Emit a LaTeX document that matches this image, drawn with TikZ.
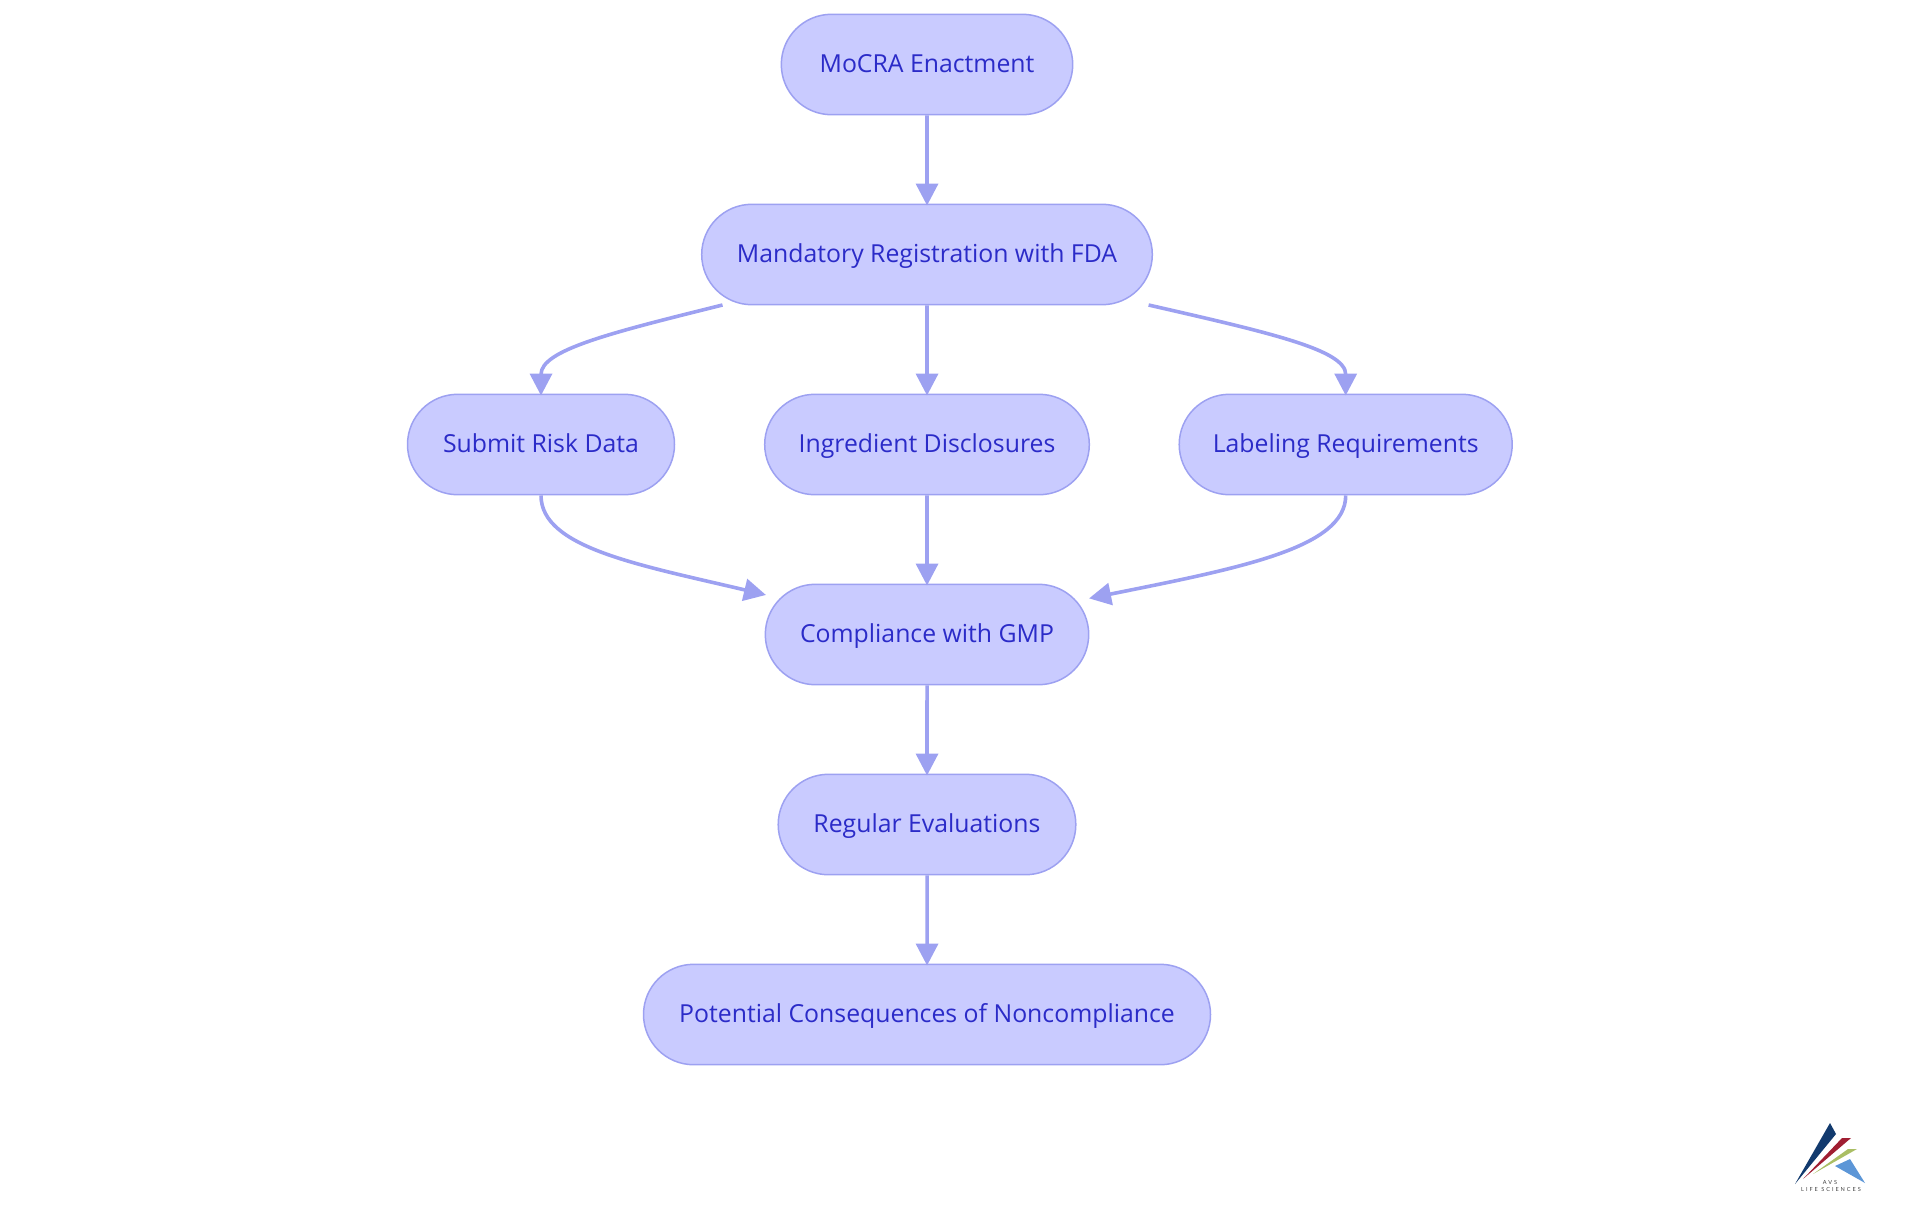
\documentclass[tikz,border=0pt]{standalone}
\usepackage{fontspec}
\setmainfont{Open Sans}
\newfontfamily\logofont[LetterSpace=35]{Lato}
\usetikzlibrary{shapes.misc}
\usetikzlibrary{arrows.meta}
\definecolor{boxfill}{RGB}{201,203,255}
\definecolor{boxline}{RGB}{157,161,241}
\definecolor{boxtext}{RGB}{43,43,200}
\tikzset{
  stagebox/.style={rounded rectangle, draw=boxline, fill=boxfill, line width=0.75pt,
    text=boxtext, minimum height=50.2pt, inner sep=0pt, text height=11pt, text depth=2.8pt,
    font=\fontsize{12.4}{14}\selectfont},
  flowline/.style={draw=boxline, line width=1.8pt, shorten >=-1pt,
    -{Triangle[length=11pt,width=11pt]}},
  logotext/.style={text=black!75, inner sep=0pt, font=\logofont\fontsize{2.8}{3.2}\selectfont}
}
\begin{document}
\begin{tikzpicture}[x=0.5pt,y=0.5pt]
\useasboundingbox (0,0) rectangle (1920,-1215);

\node[stagebox, minimum width=145.7pt] (mocra) at (927,-64.5) {MoCRA Enactment};
\node[stagebox, minimum width=225.3pt] (regis) at (927,-254.5) {Mandatory Registration with FDA};
\node[stagebox, minimum width=133.5pt] (risk) at (541,-444.5) {Submit Risk Data};
\node[stagebox, minimum width=162.3pt] (ingred) at (927,-444.5) {Ingredient Disclosures};
\node[stagebox, minimum width=166.5pt] (label) at (1345.7,-444.5) {Labeling Requirements};
\node[stagebox, minimum width=161.7pt] (gmp) at (927,-634.5) {Compliance with GMP};
\node[stagebox, minimum width=148.8pt] (evals) at (927,-824.5) {Regular Evaluations};
\node[stagebox, minimum width=283.5pt] (conseq) at (927,-1014.5) {Potential Consequences of Noncompliance};

\coordinate (regisl) at (722.5,-305);
\coordinate (regisr) at (1148.6,-305);
\coordinate (gmpl) at (764,-594.5);
\coordinate (gmpr) at (1091,-598);

\draw[flowline] (mocra) -- (regis);
\draw[flowline] (regis) -- (ingred);
\draw[flowline] (ingred) -- (gmp);
\draw[flowline] (gmp) -- (evals);
\draw[flowline] (evals) -- (conseq);

\draw[flowline] (regisl) .. controls (610,-333) and (541,-350) .. (risk.north);
\draw[flowline] (regisr) .. controls (1271,-333) and (1345.7,-350) .. (label.north);
\draw[flowline] (risk.south) .. controls (541,-548) and (640,-565) .. (gmpl);
\draw[flowline] (label.south) .. controls (1345.7,-548) and (1240,-568) .. (gmpr);

% logo
\fill[fill={rgb,255:red,18;green,58;blue,110}] (1795,-1184) -- (1830,-1123) -- (1836,-1134) -- cycle;
\fill[fill={rgb,255:red,160;green,30;blue,50}] (1803,-1179) -- (1842,-1138) -- (1851,-1138) -- cycle;
\fill[fill={rgb,255:red,170;green,190;blue,100}] (1813,-1174) -- (1848,-1149) -- (1857,-1149) -- cycle;
\fill[fill={rgb,255:red,92;green,150;blue,215}] (1850,-1159) -- (1835,-1166) -- (1865,-1183) -- cycle;
\node[logotext] (avs) at (1830,-1182) {AVS};
\node[logotext] (life) at (1831,-1189) {LIFE SCIENCES};
\end{tikzpicture}
\end{document}
